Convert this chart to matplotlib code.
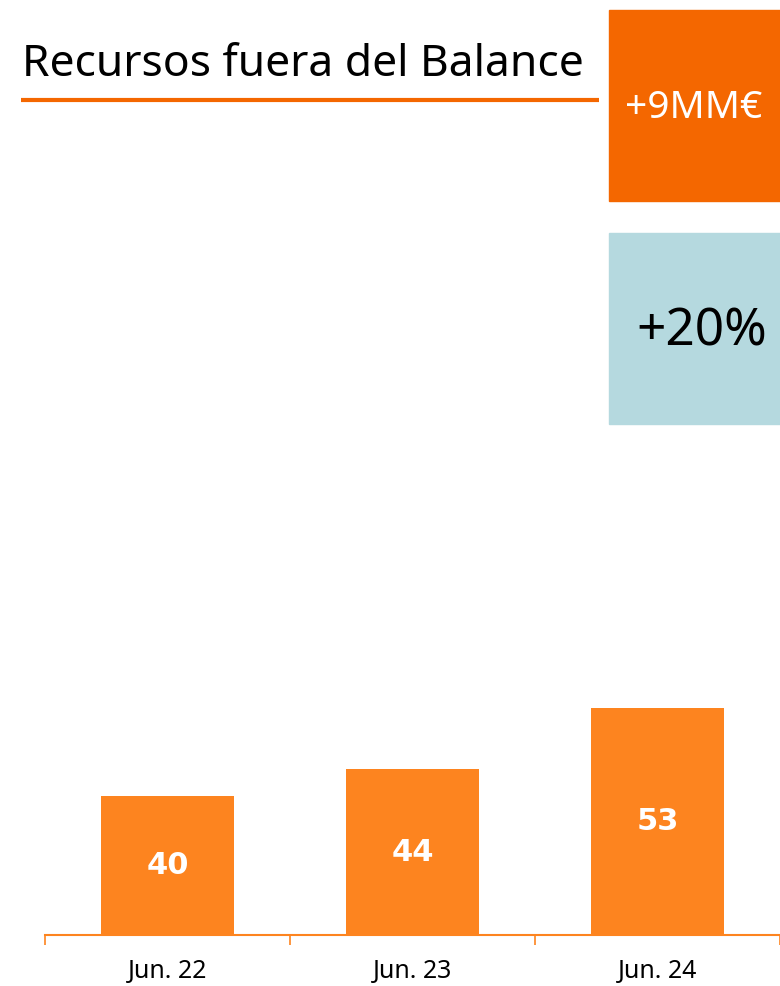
import matplotlib
matplotlib.use("Agg")
import matplotlib.pyplot as plt
from matplotlib.patches import Rectangle
from matplotlib.lines import Line2D

# data
categories = ["Jun. 22", "Jun. 23", "Jun. 24"]
values = [40, 44, 53]
title = "Recursos fuera del Balance"
badge_abs = "+9MM€"
badge_pct = "+20%"

W, H = 780, 986
BAR = "#FD841F"
ORANGE = "#F46700"
BLUE = "#B5D9DF"

plt.rcParams['font.family'] = ['Noto Sans', 'DejaVu Sans']

fig = plt.figure(figsize=(W / 100, H / 100), dpi=100)

def fx(px):
    return px / W

def fy(py):
    return 1 - py / H

# bar axes
ax = fig.add_axes([fx(45), fy(935), fx(735), (935 - 450) / H])
x = list(range(len(categories)))
ax.bar(x, values, width=0.54, color=BAR, zorder=2)
ax.set_xlim(-0.5, len(categories) - 0.5)
ax.set_ylim(19.6, 90.9)
for xi, v in zip(x, values):
    ax.text(xi, (19.6 + v) / 2, str(v), ha="center", va="center",
            color="white", fontsize=22, fontweight="bold",
            family=['DejaVu Sans'])

for s in ["top", "left", "right"]:
    ax.spines[s].set_visible(False)
ax.spines["bottom"].set_color(BAR)
ax.spines["bottom"].set_linewidth(1.5)
ax.set_yticks([])
ax.set_xticks(x)
ax.set_xticklabels(categories, fontsize=18, fontweight="light")
ax.tick_params(axis="x", which="major", length=0, pad=17)
ax.set_xticks([i - 0.5 for i in range(len(categories) + 1)], minor=True)
ax.tick_params(axis="x", which="minor", length=7, width=1.2, color=BAR)

# title and underline
fig.text(fx(22), fy(65), title, ha="left", va="center", fontsize=32, color="black")
fig.add_artist(Line2D([fx(21), fx(599)], [fy(99.5), fy(99.5)], color=ORANGE,
                      linewidth=3, solid_capstyle="butt", transform=fig.transFigure))

# badges
fig.add_artist(Rectangle((fx(609), fy(201)), fx(171), 191 / H, color=ORANGE,
                         transform=fig.transFigure))
fig.text(fx(694), fy(108), badge_abs, ha="center", va="center", fontsize=28, color="white")
fig.add_artist(Rectangle((fx(609), fy(424)), fx(171), 191 / H, color=BLUE,
                         transform=fig.transFigure))
fig.text(fx(702), fy(332), badge_pct, ha="center", va="center", fontsize=37, color="black")

fig.savefig("out.png", dpi=100)
